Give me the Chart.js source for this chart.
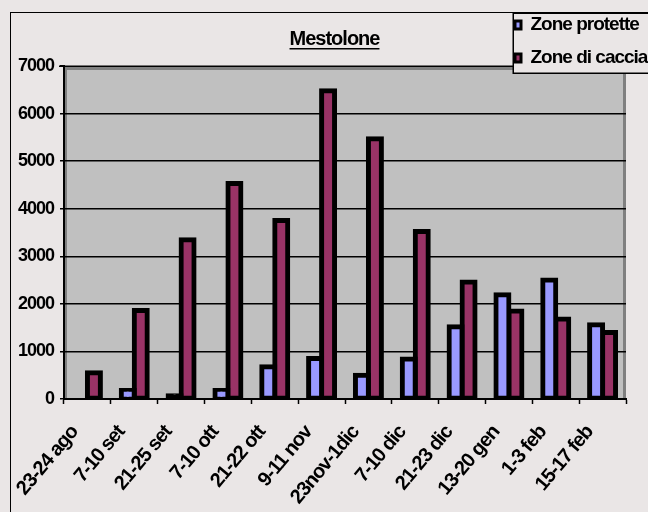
<!DOCTYPE html>
<html>
<head>
<meta charset="utf-8">
<title>Mestolone</title>
<script src="https://cdn.jsdelivr.net/npm/chart.js@4.4.1/dist/chart.umd.min.js"></script>
<style>
  html, body { margin: 0; padding: 0; background: #EAE6E6; overflow: hidden; }
  canvas { display: block; }
</style>
</head>
<body>
<canvas id="chart" width="648" height="512"></canvas>
<script>
// Survey periods (x categories)
const categories = ['23-24 ago', '7-10 set', '21-25 set', '7-10 ott', '21-22 ott', '9-11 nov',
                    '23nov-1dic', '7-10 dic', '21-23 dic', '13-20 gen', '1-3 feb', '15-17 feb'];
// Counts per period
const zoneProtette = [null, 180, 70, 180, 680, 850, 500, 840, 1520, 2190, 2500, 1560];
const zoneCaccia   = [550, 1860, 3350, 4530, 3750, 6480, 5470, 3520, 2460, 1850, 1680, 1400];
// Value axis ticks
const yTicks = [0, 1000, 2000, 3000, 4000, 5000, 6000, 7000];
const seriesNames = ['Zone protette', 'Zone di caccia'];
const seriesColors = ['#9999FF', '#993366'];
const chartTitle = 'Mestolone';

const FONT = "'Liberation Sans', Arial, Helvetica, sans-serif";
const PAGE_BG = '#EAE6E6';
const PLOT_BG = '#C0C0C0';
const PLOT_EDGE = '#808080';
const BAR_BORDER = 5;
const TEXT_TRACKING = '-1px';   // tight, condensed-looking lettering

// Bars too short to show any fill are drawn solid black, as only the outline remains
function barFill(color) {
  return (ctx) => {
    const v = ctx.raw;
    const y = ctx.chart.scales && ctx.chart.scales.y;
    if (v == null || !y) return color;
    const h = y.getPixelForValue(0) - y.getPixelForValue(v);
    return h <= BAR_BORDER ? '#000000' : color;
  };
}

// Legend frame position
const LEGEND_BOX = { x: 513, y: 13, bottom: 73 };

const decor = {
  id: 'decor',
  afterLayout(chart) {
    const lg = chart.legend;
    if (lg) {
      lg.left = 501; lg.top = 1.5; lg.right = 720; lg.bottom = 100;
      lg.width = lg.right - lg.left; lg.height = lg.bottom - lg.top;
    }
    const tb = chart.titleBlock;
    if (tb) { tb.left = 21; tb.right = chart.width; tb.width = tb.right - tb.left; }
  },
  beforeDraw(chart) {
    const { ctx, chartArea: a } = chart;
    ctx.save();
    // page background
    ctx.fillStyle = PAGE_BG;
    ctx.fillRect(0, 0, chart.width, chart.height);
    // outer chart frame
    ctx.strokeStyle = '#000';
    ctx.lineWidth = 1;
    ctx.strokeRect(10.5, 12.5, chart.width + 20, chart.height + 20);
    // plot area
    ctx.fillStyle = PLOT_BG;
    ctx.fillRect(a.left, a.top, a.right - a.left, a.bottom - a.top);
    ctx.fillStyle = PLOT_EDGE;
    ctx.fillRect(a.left, a.top, 3, a.bottom - a.top);
    ctx.fillRect(a.left, a.top + 1, a.right - a.left, 3);
    ctx.fillRect(a.right - 3, a.top, 3, a.bottom - a.top);
    // top edge line with its tick mark
    ctx.fillStyle = '#000';
    ctx.fillRect(a.left - 5, a.top - 0.5, a.right - a.left + 5, 1.5);
    // legend frame
    ctx.fillStyle = PAGE_BG;
    ctx.fillRect(LEGEND_BOX.x, LEGEND_BOX.y, chart.width, LEGEND_BOX.bottom - LEGEND_BOX.y);
    ctx.strokeStyle = '#000';
    ctx.lineWidth = 1.5;
    ctx.strokeRect(LEGEND_BOX.x + 0.25, LEGEND_BOX.y + 0.25, chart.width, LEGEND_BOX.bottom - LEGEND_BOX.y);
    ctx.restore();
    // all chart text is set tight
    if ('letterSpacing' in ctx) ctx.letterSpacing = TEXT_TRACKING;
  },
  afterDraw(chart) {
    // underline the title
    const tb = chart.titleBlock;
    if (!tb) return;
    const { ctx } = chart;
    ctx.save();
    ctx.font = 'bold 20px ' + FONT;
    const w = ctx.measureText(chartTitle).width;
    const cx = (tb.left + tb.right) / 2;
    ctx.fillStyle = '#000';
    ctx.fillRect(cx - w / 2, 48, w, 1.5);
    ctx.restore();
  }
};

new Chart(document.getElementById('chart'), {
  type: 'bar',
  data: {
    labels: categories,
    datasets: [
      { label: seriesNames[0], data: zoneProtette },
      { label: seriesNames[1], data: zoneCaccia }
    ].map((d, i) => Object.assign(d, {
      backgroundColor: barFill(seriesColors[i]),
      borderColor: '#000000',
      borderWidth: { top: BAR_BORDER, left: BAR_BORDER, right: BAR_BORDER, bottom: BAR_BORDER },
      borderSkipped: false,
      inflateAmount: BAR_BORDER / 2,
      barPercentage: 1,
      categoryPercentage: 0.555
    }))
  },
  options: {
    responsive: false,
    animation: false,
    events: [],
    layout: { padding: { left: 0, right: 22, top: 0, bottom: 0 } },
    plugins: {
      tooltip: { enabled: false },
      title: {
        display: true,
        text: chartTitle,
        color: '#000',
        font: { family: FONT, size: 20, weight: 'bold' },
        padding: { top: 27.6, bottom: 14.4 }
      },
      legend: {
        display: true,
        position: 'chartArea',
        align: 'start',
        labels: {
          color: '#000',
          font: { family: FONT, size: 19, weight: 'bold' },
          boxWidth: 6,
          boxHeight: 8,
          padding: 14,
          generateLabels: (chart) => chart.data.datasets.map((ds, i) => ({
            text: ds.label,
            fillStyle: seriesColors[i],
            strokeStyle: '#000',
            lineWidth: 3,
            fontColor: '#000',
            textAlign: 'left',
            datasetIndex: i,
            hidden: false
          }))
        }
      }
    },
    scales: {
      x: {
        offset: true,
        afterFit: (s) => { s.height = 113; },
        grid: {
          offset: true,
          drawOnChartArea: false,
          drawTicks: true,
          tickLength: 5,
          tickColor: '#000',
          tickWidth: 1.5,
          color: '#000'
        },
        border: { display: true, color: '#000', width: 2 },
        ticks: {
          autoSkip: false,
          minRotation: 50,
          maxRotation: 50,
          labelOffset: -13,
          padding: 17,
          color: '#000',
          font: { family: FONT, size: 20, weight: 'bold' }
        }
      },
      y: {
        min: yTicks[0],
        max: yTicks[yTicks.length - 1],
        afterFit: (s) => { s.width = 64; },
        afterBuildTicks: (s) => { s.ticks = yTicks.map(v => ({ value: v })); },
        grid: {
          color: (c) => (c.tick && c.tick.value === yTicks[yTicks.length - 1]) ? 'rgba(0,0,0,0)' : '#000',
          lineWidth: 1.5,
          drawTicks: true,
          tickLength: 4,
          tickColor: '#000',
          tickWidth: 1.5
        },
        border: { display: true, color: '#000', width: 2 },
        ticks: {
          padding: 6,
          color: '#000',
          font: { family: FONT, size: 18, weight: 'bold' },
          callback: (v) => String(v)
        }
      }
    }
  },
  plugins: [decor]
});
</script>
</body>
</html>
